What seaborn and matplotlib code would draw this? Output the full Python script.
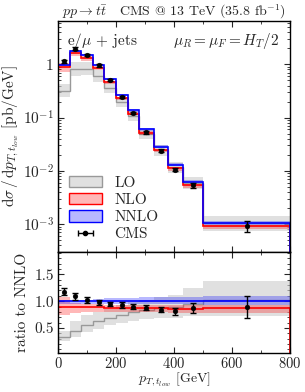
import numpy as np
import matplotlib
matplotlib.use("Agg")
import matplotlib.pyplot as plt
import matplotlib.ticker as mticker
from matplotlib.patches import Patch
import seaborn as sns

# bin edges and centres of the CMS measurement (GeV)
edges = [0, 40, 80, 120, 160, 200, 240, 280, 330, 380, 430, 500, 800]
centres = [20, 60, 100, 140, 180, 220, 260, 305, 355, 405, 465, 650]

# NNLO central prediction [pb/GeV]
nnlo = [0.97, 1.80, 1.49, 0.97, 0.53, 0.265, 0.137, 0.060, 0.0285, 0.0130, 0.0062, 0.00105]

# everything below is relative to NNLO (ratio panel)
nnlo_lo = [0.94, 0.95, 0.95, 0.95, 0.95, 0.95, 0.95, 0.95, 0.94, 0.94, 0.94, 0.93]
nnlo_hi = [1.03, 1.03, 1.03, 1.04, 1.05, 1.05, 1.06, 1.07, 1.07, 1.08, 1.08, 1.10]

nlo_mid = [0.90, 0.90, 0.89, 0.89, 0.88, 0.88, 0.87, 0.87, 0.87, 0.86, 0.86, 0.88]
nlo_lo = [0.75, 0.78, 0.79, 0.80, 0.80, 0.80, 0.80, 0.80, 0.79, 0.78, 0.78, 0.77]
nlo_hi = [1.08, 0.97, 0.95, 0.94, 0.93, 0.93, 0.93, 0.92, 0.92, 0.92, 0.92, 0.93]

lo_mid = [0.33, 0.45, 0.55, 0.62, 0.69, 0.74, 0.79, 0.83, 0.87, 0.90, 0.95, 1.02]
lo_lo = [0.25, 0.33, 0.42, 0.48, 0.55, 0.60, 0.63, 0.66, 0.68, 0.69, 0.73, 0.72]
lo_hi = [0.45, 0.62, 0.74, 0.80, 0.86, 0.92, 0.98, 1.03, 1.08, 1.12, 1.24, 1.38]

cms_ratio = [1.18, 1.09, 1.02, 0.98, 0.95, 0.93, 0.90, 0.88, 0.84, 0.81, 0.87, 0.89]
cms_err = [0.07, 0.06, 0.05, 0.05, 0.04, 0.05, 0.04, 0.05, 0.05, 0.06, 0.09, 0.21]

sns.set_theme(style="ticks")
plt.rcParams["font.family"] = ["cmr10", "DejaVu Serif"]
plt.rcParams["mathtext.fontset"] = "cm"
plt.rcParams["axes.formatter.use_mathtext"] = True
plt.rcParams["axes.unicode_minus"] = False

fs = 11

edges = np.array(edges)
nnlo = np.array(nnlo)


def step(v):
    v = np.asarray(v, dtype=float)
    return np.append(v, v[-1])


fig = plt.figure(figsize=(3.05, 3.92), dpi=100)
ax = fig.add_axes([0.190, 0.3571, 0.761, 0.5893])
rax = fig.add_axes([0.190, 0.0995, 0.761, 0.2576], sharex=ax)

gray_fill = (0.8, 0.8, 0.8, 0.6)
red_fill = (1.0, 0.0, 0.0, 0.28)
blue_fill = (0.0, 0.0, 1.0, 0.28)

for a, scale in [(ax, nnlo), (rax, np.ones(len(nnlo)))]:
    a.fill_between(edges, step(np.array(lo_lo) * scale), step(np.array(lo_hi) * scale),
                   step="post", color=gray_fill, lw=0)
    a.stairs(np.array(lo_mid) * scale, edges, color="#999999", lw=1)
    a.fill_between(edges, step(np.array(nlo_lo) * scale), step(np.array(nlo_hi) * scale),
                   step="post", color=red_fill, lw=0)
    a.fill_between(edges, step(np.array(nnlo_lo) * scale), step(np.array(nnlo_hi) * scale),
                   step="post", color=blue_fill, lw=0)
    base = 1e-6 if a is ax else None
    a.stairs(np.array(nlo_mid) * scale, edges, color="red", lw=1.2)
    a.stairs(scale, edges, color="blue", lw=1.2, baseline=base)

    yv = np.array(cms_ratio) * scale
    ye = np.array(cms_err) * scale
    a.errorbar(centres, yv, yerr=ye, fmt="none", ecolor="black", elinewidth=1, capsize=2, capthick=1)
    sns.scatterplot(x=centres, y=yv, ax=a, color="black", s=12, edgecolor="black", zorder=5, legend=False)

# top panel
ax.set_yscale("log")
ax.set_ylim(3e-4, 6.5)
ax.set_xlim(0, 800)
ax.yaxis.set_major_formatter(mticker.FuncFormatter(
    lambda v, _: "$1$" if abs(v - 1) < 1e-9 else "$10^{%d}$" % round(np.log10(v))))
ax.yaxis.set_major_locator(mticker.FixedLocator([1e-3, 1e-2, 1e-1, 1]))
ax.yaxis.set_minor_locator(mticker.LogLocator(base=10, subs=np.arange(2, 10), numticks=20))
ax.yaxis.set_minor_formatter(mticker.NullFormatter())
ax.tick_params(labelbottom=False)
ax.set_ylabel(r"$\mathrm{d}\sigma\,/\,\mathrm{d}p_{T,t_{low}}$ [pb/GeV]", fontsize=fs, labelpad=1)
ax.set_title(r"$pp\rightarrow t\bar{t}$   CMS @ 13 TeV (35.8 fb$^{-1}$)", fontsize=10, pad=3)
ax.text(0.04, 0.955, r"e/$\mu$ + jets", transform=ax.transAxes, fontsize=fs, va="top")
ax.text(0.955, 0.955, r"$\mu_R = \mu_F = H_T/2$", transform=ax.transAxes, fontsize=fs,
        va="top", ha="right")

# legend
handles = [
    Patch(facecolor=gray_fill, edgecolor="#999999", lw=1),
    Patch(facecolor=red_fill, edgecolor="red", lw=1),
    Patch(facecolor=blue_fill, edgecolor="blue", lw=1),
    ax.errorbar([np.nan], [np.nan], xerr=[1], fmt="o", color="black", ms=3, capsize=2, lw=1),
]
ax.legend(handles, ["LO", "NLO", "NNLO", "CMS"], loc="lower left", frameon=False, fontsize=fs,
          handlelength=2.2, handleheight=0.8, labelspacing=0.2, borderaxespad=0.3,
          handletextpad=0.8)

# ratio panel
rax.set_ylim(0.03, 1.92)
rax.set_xlim(0, 800)
rax.yaxis.set_major_locator(mticker.FixedLocator([0.5, 1.0, 1.5]))
rax.yaxis.set_major_formatter(mticker.FormatStrFormatter("%.1f"))
rax.yaxis.set_minor_locator(mticker.MultipleLocator(0.1))
rax.xaxis.set_major_locator(mticker.MultipleLocator(200))
rax.xaxis.set_minor_locator(mticker.MultipleLocator(100))
rax.set_ylabel("ratio to NNLO", fontsize=fs, labelpad=4)
rax.set_xlabel(r"$p_{T,t_{low}}$ [GeV]", fontsize=10, va="center")
rax.xaxis.set_label_coords(0.5, -0.26)

for a in (ax, rax):
    a.tick_params(which="both", direction="in", top=True, right=True, labelsize=fs, pad=3)
    a.tick_params(which="major", length=4, width=0.8)
    a.tick_params(which="minor", length=2, width=0.6)
    for s in a.spines.values():
        s.set_linewidth(1)
        s.set_color("black")
rax.tick_params(axis="x", which="both", pad=2, labelsize=10.5)

fig.savefig("out.png", dpi=100)
